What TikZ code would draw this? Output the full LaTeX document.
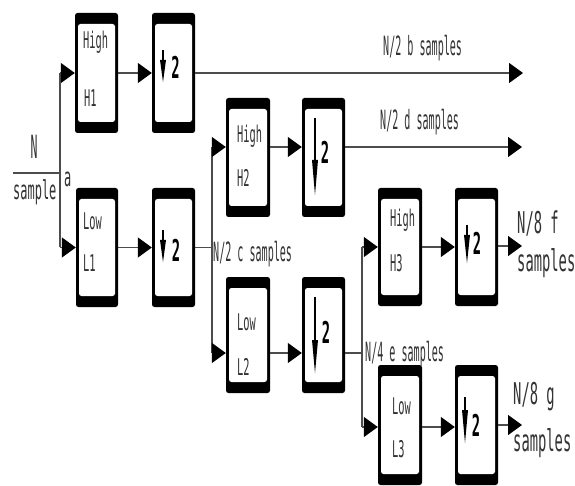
\documentclass[tikz,border=0pt]{standalone}
\usepackage{fontspec}
\usepackage{graphicx}
\newfontfamily\pix{DejaVu Sans Mono}
\usetikzlibrary{arrows.meta,calc}
\newcommand\tsmall[1]{\scalebox{0.38}[1]{\fontsize{26.5}{28}\selectfont #1}}
\newcommand\tbox[1]{\scalebox{0.45}[1]{\fontsize{23}{24}\selectfont #1}}
\newcommand\tout[1]{\scalebox{0.46}[1]{\fontsize{30}{32}\selectfont #1}}
\newcommand\tin[1]{\scalebox{0.46}[1]{\fontsize{26}{28}\selectfont #1}}
\newcommand\tinN[1]{\scalebox{0.36}[1]{\fontsize{32}{34}\selectfont #1}}
\newcommand\ttwo[1]{\scalebox{0.46}[1]{\bfseries\fontsize{30}{32}\selectfont #1}}
\newcommand\dsym[5]{%
  \draw[stem] (#1,#2) -- (#1,#3);
  \fill[black] (#1-#5,#3) -- (#1+#5,#3) -- (#1,#4) -- cycle;}
\begin{document}
\begin{tikzpicture}[x=1pt,y=-1pt,
  fbox/.style={rectangle,fill=black,rounded corners=2.5pt,minimum width=43pt,minimum height=120pt,inner sep=0pt,
    path picture={\fill[white] ([xshift=3pt,yshift=-11pt]path picture bounding box.north west) rectangle ([xshift=-3pt,yshift=11pt]path picture bounding box.south east);}},
  lbl/.style={anchor=west,inner sep=0pt,font=\pix,text=black!80},
  two/.style={inner sep=0pt,font=\pix,text=black},
  wire/.style={draw=black!70,line width=1.3pt},
  arr/.style={wire,-{Triangle[length=14pt,width=20pt,color=black]}},
  stem/.style={draw=black,line width=1.2pt},
]
\fill[white] (0,0) rectangle (575,486);
\useasboundingbox (0,0) rectangle (575,486);

% boxes
\node[fbox] (H1) at (96.5,73) {};
\node[fbox] (D1) at (173.5,73) {};
\node[fbox,minimum width=42pt,minimum height=119pt] (L1) at (97,247.5) {};
\node[fbox,minimum height=119pt] (D1L) at (173.5,247.5) {};
\node[fbox,minimum width=44pt,minimum height=119pt] (H2) at (248,157.5) {};
\node[fbox,minimum height=119pt] (D2) at (323.5,157.5) {};
\node[fbox,minimum width=44pt,minimum height=116pt] (L2) at (248,335) {};
\node[fbox,minimum height=116pt] (D2L) at (323.5,335) {};
\node[fbox,minimum width=44pt,minimum height=118pt] (H3) at (400,247) {};
\node[fbox,minimum height=118pt] (D3) at (476.5,247) {};
\node[fbox,minimum width=44pt] (L3) at (400,425) {};
\node[fbox] (D3L) at (476.5,425) {};

% box labels
\node[lbl] (H1a) at (83,42) {\tbox{High}};
\node[lbl] (H1b) at (84,98) {\tbox{H1}};
\node[lbl] (L1a) at (83,221) {\tbox{Low}};
\node[lbl] (L1b) at (83,263) {\tbox{L1}};
\node[lbl] (H2a) at (237,136) {\tbox{High}};
\node[lbl] (H2b) at (237,178) {\tbox{H2}};
\node[lbl] (L2a) at (237,322) {\tbox{Low}};
\node[lbl] (L2b) at (237,367) {\tbox{L2}};
\node[lbl] (H3a) at (390,220) {\tbox{High}};
\node[lbl] (H3b) at (390,263) {\tbox{H3}};
\node[lbl] (L3a) at (392,406) {\tbox{Low}};
\node[lbl] (L3b) at (392,449) {\tbox{L3}};

% downsampling symbols
\dsym{163}{50}{60}{82}{3}
\dsym{163}{230}{240}{262}{3}
\dsym{315}{118}{160}{195}{3}
\dsym{315}{297}{340}{373}{3}
\dsym{467}{225}{235}{263}{3}
\dsym{465}{397}{410}{443}{3}
\node[two] (D1t) at (175.5,67) {\ttwo{2}};
\node[two] (D1Lt) at (176,250) {\ttwo{2}};
\node[two] (D2t) at (325,152) {\ttwo{2}};
\node[two] (D2Lt) at (326,332) {\ttwo{2}};
\node[two] (D3t) at (477,243) {\ttwo{2}};
\node[two] (D3Lt) at (476,425) {\ttwo{2}};

% wires
\coordinate (inL) at (13,173);
\coordinate (j1) at (60,173);
\coordinate (j1t) at (60,73);
\coordinate (j1b) at (60,247.5);
\draw[wire] (inL) -- (j1);
\draw[wire] (j1t) -- (j1b);
\draw[arr] (j1t) -- (H1.west |- j1t);
\draw[arr] (j1b) -- (L1.west |- j1b);
\draw[arr] (H1.east) -- (D1.west);
\coordinate (o1) at (523,73);
\draw[arr] (D1.east) -- (o1);
\draw[arr] (L1.east) -- (D1L.west);

\coordinate (j2) at (212,247.5);
\coordinate (j2t) at (212,147);
\coordinate (j2b) at (212,353);
\draw[wire] (D1L.east) -- (j2);
\draw[wire] (j2t) -- (j2b);
\draw[arr] (j2t) -- (H2.west |- j2t);
\draw[arr] (j2b) -- (L2.west |- j2b);
\draw[arr] (H2.east |- j2t) -- (D2.west |- j2t);
\coordinate (o2) at (522,147);
\draw[arr] (D2.east |- o2) -- (o2);
\draw[arr] (L2.east |- j2b) -- (D2L.west |- j2b);

\coordinate (j3) at (362,353);
\coordinate (j3t) at (362,247);
\coordinate (j3b) at (362,427);
\draw[wire] (D2L.east |- j3) -- (j3);
\draw[wire] (j3t) -- (j3b);
\draw[arr] (j3t) -- (H3.west |- j3t);
\draw[arr] (j3b) -- (L3.west |- j3b);
\draw[arr] (H3.east |- j3t) -- (D3.west |- j3t);
\draw[arr] (L3.east |- j3b) -- (D3L.west |- j3b);
\coordinate (o3) at (522,246);
\draw[arr] (D3.east |- o3) -- (o3);
\coordinate (o4) at (522,425);
\draw[arr] (D3L.east |- o4) -- (o4);

% texts
\node[lbl,anchor=center] (tN) at (34,147) {\tinN{N}};
\node[lbl] (tsample) at (13,192) {\tin{sample}};
\node[lbl] (ta) at (64,179) {\tin{a}};
\node[lbl] (tb) at (383,48) {\tsmall{N/2 b samples}};
\node[lbl] (td) at (380,122) {\tsmall{N/2 d samples}};
\node[lbl] (tc) at (213,254) {\tsmall{N/2 c samples}};
\node[lbl] (te) at (365,354) {\tsmall{N/4 e samples}};
\node[lbl] (tf1) at (517,223) {\tout{N/8 f}};
\node[lbl] (tf2) at (517,263) {\tout{samples}};
\node[lbl] (tg1) at (513,397) {\tout{N/8 g}};
\node[lbl] (tg2) at (513,443) {\tout{samples}};
\end{tikzpicture}
\end{document}
